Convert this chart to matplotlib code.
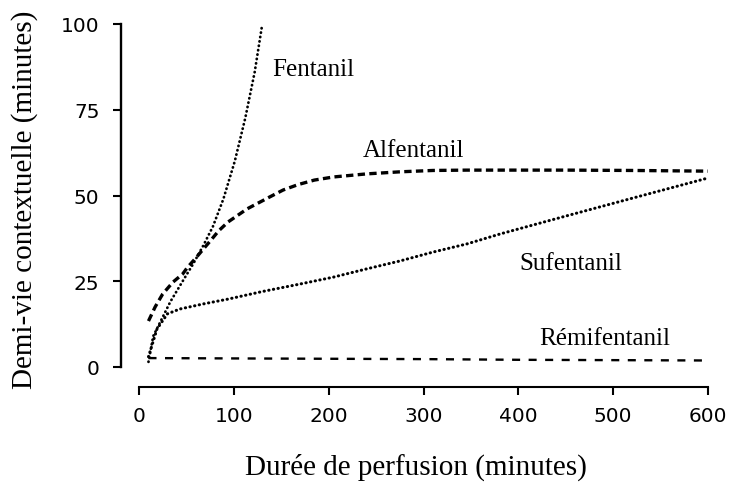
import numpy as np
import matplotlib
matplotlib.use("Agg")
import matplotlib.pyplot as plt

# readings (minutes)
fent_x = [10, 15, 24, 33, 46, 57, 68, 78, 89, 101, 112, 122, 130]
fent_y = [1.5, 9, 14, 19, 25, 30, 35.5, 41, 49, 60, 72.5, 86, 100]

alf_x = [10, 17, 25, 36, 46, 51, 59, 75, 84, 94, 114, 138, 152, 168, 185, 205, 240, 275, 310, 346, 381, 450, 520, 600]
alf_y = [13.4, 17.5, 21.3, 24.8, 27.1, 29.0, 31.5, 36.7, 39.7, 42.3, 46.1, 49.6, 51.6, 53.2, 54.5, 55.4, 56.3, 56.9, 57.3, 57.4, 57.4, 57.4, 57.3, 57.1]

suf_x = [10, 19, 30, 43, 68, 94, 130, 170, 205, 240, 275, 310, 346, 381, 450, 520, 600]
suf_y = [3.0, 11.1, 15.5, 16.9, 18.4, 19.8, 22.0, 24.2, 26.2, 28.6, 30.9, 33.5, 35.9, 38.8, 44.0, 49.2, 55.1]

remi_x = [10, 100, 200, 300, 400, 500, 600]
remi_y = [2.6, 2.5, 2.4, 2.3, 2.1, 2.0, 1.9]

xticks = [0, 100, 200, 300, 400, 500, 600]
yticks = [0, 25, 50, 75, 100]

fig = plt.figure(figsize=(7.29, 4.85), dpi=100)
ax = fig.add_axes([139/729, 1-368/485, (708-139)/729, 343/485])

ax.plot(fent_x, fent_y, color='black', lw=2.0, dashes=(0.1, 1.5), dash_capstyle='round')
ax.plot(suf_x, suf_y, color='black', lw=2.2, dashes=(0.1, 1.45), dash_capstyle='round')
ax.plot(alf_x, alf_y, color='black', lw=2.4, dashes=(2.2, 1.3))
ax.plot(remi_x, remi_y, color='black', lw=1.7, dashes=(3.4, 3.6))

ax.set_xlim(0, 600)
ax.set_ylim(0, 100)
ax.set_xticks(xticks)
ax.set_yticks(yticks)

for s in ['top', 'right']:
    ax.spines[s].set_visible(False)
ax.spines['left'].set_position(('outward', 13))
ax.spines['bottom'].set_position(('outward', 14.4))
ax.spines['left'].set_linewidth(1.7)
ax.spines['bottom'].set_linewidth(1.5)
ax.tick_params(axis='both', length=5.5, width=1.5, labelsize=14.5)
ax.tick_params(axis='y', pad=10)
ax.tick_params(axis='x', pad=8)

serif = 'Liberation Serif'
ax.text(140, 85.1, 'Fentanil', family=serif, fontsize=18)
ax.text(236, 61.5, 'Alfentanil', family=serif, fontsize=18)
ax.text(401, 28.6, 'Sufentanil', family=serif, fontsize=18)
ax.text(422, 6.7, 'Rémifentanil', family=serif, fontsize=18)

fig.text(25/729, 1-200/485, 'Demi-vie contextuelle (minutes)', family=serif,
         fontsize=21, rotation=90, ha='center', va='center')
fig.text(416/729, 1-467/485, 'Durée de perfusion (minutes)', family=serif,
         fontsize=21, ha='center', va='center')

fig.savefig('out.png', dpi=100)
